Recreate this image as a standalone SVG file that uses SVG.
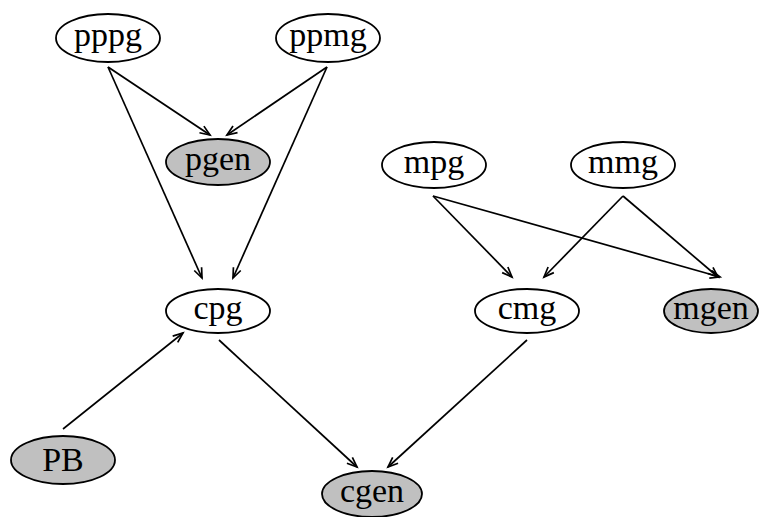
<svg xmlns="http://www.w3.org/2000/svg" width="760" height="517" viewBox="0 0 760 517">
  <style>
    .node ellipse { stroke: #000; stroke-width: 1.8; }
    .plain ellipse { fill: #fff; }
    .shaded ellipse { fill: #c0c0c0; }
    .node text { fill: #000; text-anchor: middle; font-family: "Liberation Serif", serif; font-size: 34px; }
    #edges line { stroke: #000; stroke-width: 1.7; marker-end: url(#arrow); }
  </style>
  <defs>
    <marker id="arrow" markerUnits="userSpaceOnUse" markerWidth="12" markerHeight="10" refX="10" refY="4" orient="auto" overflow="visible">
      <path d="M0,0 L10,4 L0,8" fill="none" stroke="#000" stroke-width="1.7"/>
    </marker>
  </defs>
  <rect width="760" height="517" fill="#fff"/>

  <!-- connectors -->
  <g id="edges">
    <line x1="108" y1="67" x2="210" y2="135"/>
    <line x1="108" y1="67" x2="202" y2="278"/>
    <line x1="327" y1="67" x2="227" y2="135"/>
    <line x1="327" y1="67" x2="233" y2="278"/>
    <line x1="63" y1="429" x2="183" y2="333"/>
    <line x1="219" y1="340" x2="357" y2="467"/>
    <line x1="527" y1="340" x2="388" y2="467"/>
    <line x1="433" y1="196" x2="512" y2="277"/>
    <line x1="433" y1="196" x2="720" y2="277"/>
    <line x1="623" y1="196" x2="544" y2="277"/>
    <line x1="623" y1="196" x2="718" y2="277"/>
  </g>

  <!-- nodes -->
  <g id="pppg" class="node plain"><ellipse cx="108" cy="38" rx="52" ry="24"/><text x="108" y="46">pppg</text></g>
  <g id="ppmg" class="node plain"><ellipse cx="328" cy="38" rx="52" ry="24"/><text x="328" y="46">ppmg</text></g>
  <g id="pgen" class="node shaded"><ellipse cx="218" cy="162" rx="52" ry="23"/><text x="218" y="170">pgen</text></g>
  <g id="mpg" class="node plain"><ellipse cx="434" cy="165" rx="52" ry="23"/><text x="434" y="173">mpg</text></g>
  <g id="mmg" class="node plain"><ellipse cx="623" cy="165" rx="52" ry="23"/><text x="623" y="173">mmg</text></g>
  <g id="cpg" class="node plain"><ellipse cx="218" cy="311" rx="52" ry="22"/><text x="218" y="319">cpg</text></g>
  <g id="cmg" class="node plain"><ellipse cx="527" cy="311" rx="52" ry="22"/><text x="527" y="319">cmg</text></g>
  <g id="mgen" class="node shaded"><ellipse cx="711" cy="311" rx="47" ry="22"/><text x="711" y="319">mgen</text></g>
  <g id="PB" class="node shaded"><ellipse cx="63" cy="460" rx="52" ry="24"/><text x="63" y="471">PB</text></g>
  <g id="cgen" class="node shaded"><ellipse cx="372" cy="494" rx="50" ry="23"/><text x="372" y="502">cgen</text></g>
</svg>
